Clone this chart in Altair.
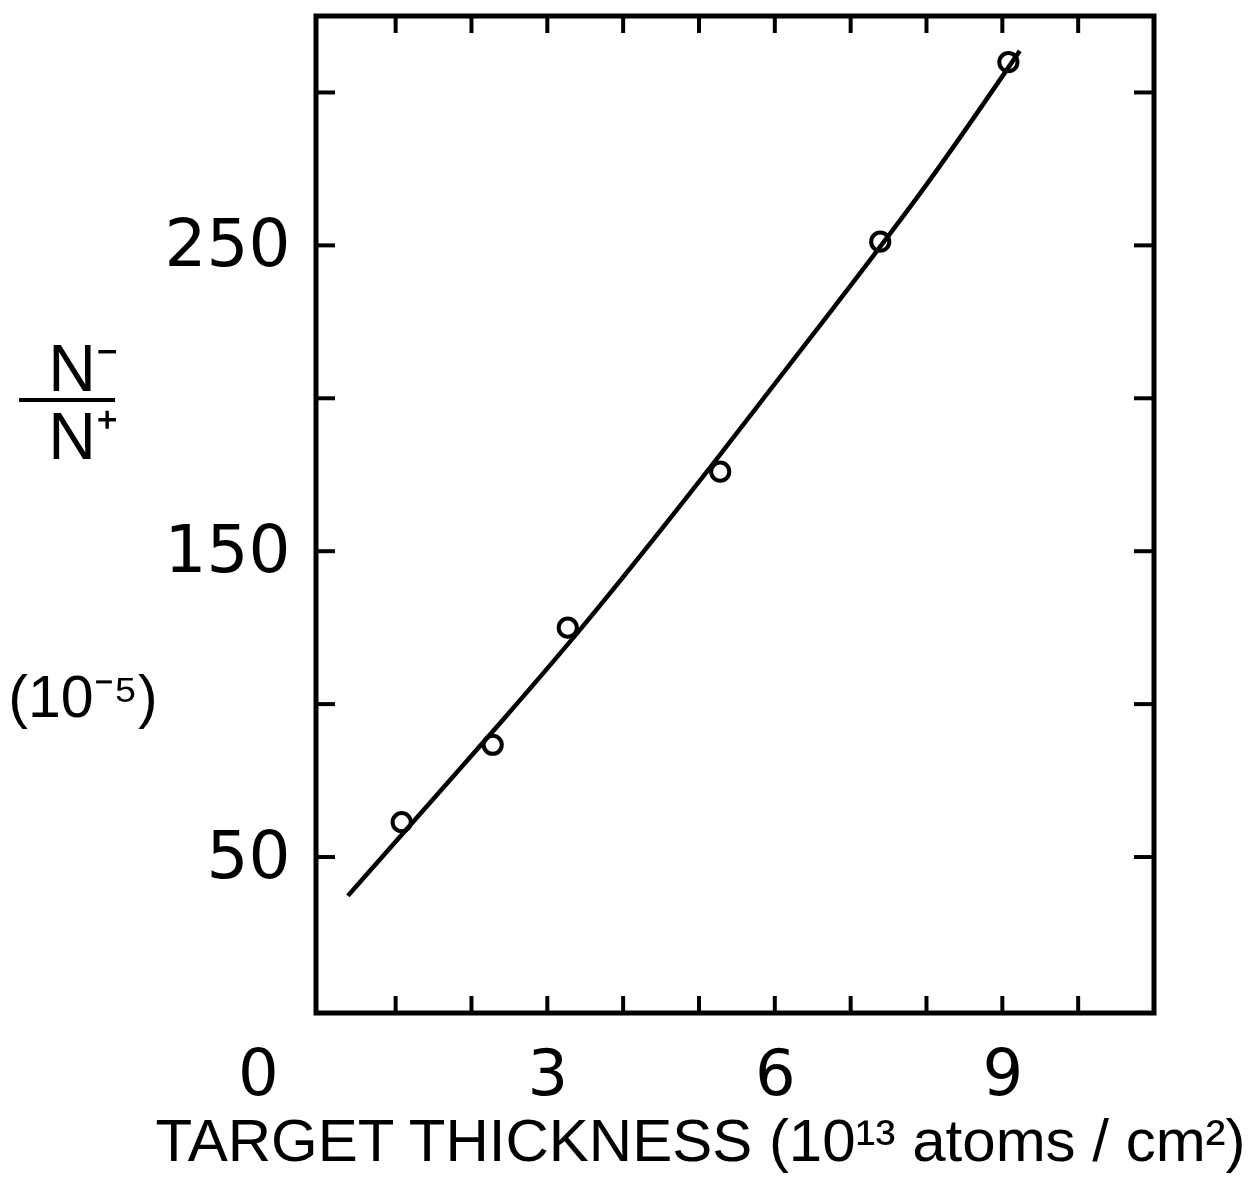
import altair as alt
import pandas as pd

# measured data points (target thickness, N-/N+ ratio in 1e-5)
thickness = [1.08, 2.28, 3.27, 5.28, 7.39, 9.08]
ratio = [61.4, 86.7, 125.0, 176.0, 251.2, 309.9]

# hand-drawn fitted curve
fit_thickness = [0.37, 1.72, 3.30, 5.21, 6.86, 8.01, 9.23]
fit_ratio = [37.3, 75.3, 119.5, 179.0, 232.4, 269.4, 313.6]

# tick positions / labels
x_tick_vals = [1, 2, 3, 4, 5, 6, 7, 8, 9, 10]
y_tick_vals = [50, 100, 150, 200, 250, 300]
x_label_vals = [0, 3, 6, 9]
y_label_vals = [50, 150, 250]

W, H = 838, 997

xs = alt.Scale(domain=[-0.05, 11], nice=False, zero=False)
ys = alt.Scale(domain=[-1, 325], nice=False, zero=False)

xaxis = alt.Axis(
    values=x_label_vals, ticks=False, tickSize=0, domain=False, grid=False,
    labelFont="DejaVu Sans", labelFontSize=64, labelColor="black",
    labelPadding=30, labelFlush=False,
    labelOffset={"condition": {"test": "datum.value == 0", "value": -62}, "value": 0},
    title="TARGET THICKNESS (10¹³ atoms / cm²)",
    titleFont="Liberation Sans", titleFontSize=60, titleFontWeight="normal",
    titleColor="black", titleX=384, titleY=147, titleAlign="center",
    titleBaseline="alphabetic",
)
yaxis = alt.Axis(
    values=y_label_vals, ticks=False, tickSize=0, domain=False, grid=False,
    labelFont="DejaVu Sans", labelFontSize=66, labelColor="black",
    labelPadding=26, labelFlush=False, title=None,
)

xenc = alt.X("x:Q", scale=xs, axis=xaxis)
yenc = alt.Y("y:Q", scale=ys, axis=yaxis)

pts_df = pd.DataFrame({"x": thickness, "y": ratio})
fit_df = pd.DataFrame({"x": fit_thickness, "y": fit_ratio})
xt_df = pd.DataFrame({"x": x_tick_vals})
yt_df = pd.DataFrame({"y": y_tick_vals})
one = pd.DataFrame({"a": [0]})

fit = alt.Chart(fit_df).mark_line(
    color="black", strokeWidth=4.5, interpolate="basis"
).encode(x=xenc, y=yenc)

points = alt.Chart(pts_df).mark_point(
    shape="circle", filled=False, size=330, strokeWidth=4, color="black", opacity=1
).encode(x=xenc, y=yenc)

xt = alt.Chart(xt_df).mark_rule(color="black", strokeWidth=4)
bottom_ticks = xt.encode(x=xenc, y=alt.value(H), y2=alt.value(H - 17))
top_ticks = xt.encode(x=xenc, y=alt.value(0), y2=alt.value(17))

yt = alt.Chart(yt_df).mark_rule(color="black", strokeWidth=4)
left_ticks = yt.encode(y=yenc, x=alt.value(0), x2=alt.value(19))
right_ticks = yt.encode(y=yenc, x=alt.value(W), x2=alt.value(W - 20))

numer = alt.Chart(one).mark_text(
    text="N⁻", font="Liberation Sans", fontSize=66, align="center",
    baseline="alphabetic", color="black"
).encode(x=alt.value(-233), y=alt.value(375))
denom = alt.Chart(one).mark_text(
    text="N⁺", font="Liberation Sans", fontSize=66, align="center",
    baseline="alphabetic", color="black"
).encode(x=alt.value(-233), y=alt.value(443))
bar = alt.Chart(one).mark_rule(color="black", strokeWidth=4).encode(
    x=alt.value(-297), x2=alt.value(-201), y=alt.value(384)
)
unit = alt.Chart(one).mark_text(
    text="(10⁻⁵)", font="Liberation Sans", fontSize=59, align="center",
    baseline="alphabetic", color="black"
).encode(x=alt.value(-233), y=alt.value(701))

chart = alt.layer(
    fit, points, bottom_ticks, top_ticks, left_ticks, right_ticks,
    numer, denom, bar, unit
).properties(
    width=W, height=H,
    autosize=alt.AutoSizeParams(type="none"),
    padding={"left": 316, "top": 16, "right": 1252 - 316 - W, "bottom": 1180 - 16 - H},
    background="white",
).configure_view(stroke="black", strokeWidth=5)

chart.save("out.html", embed_options={"renderer": "svg", "actions": False})
